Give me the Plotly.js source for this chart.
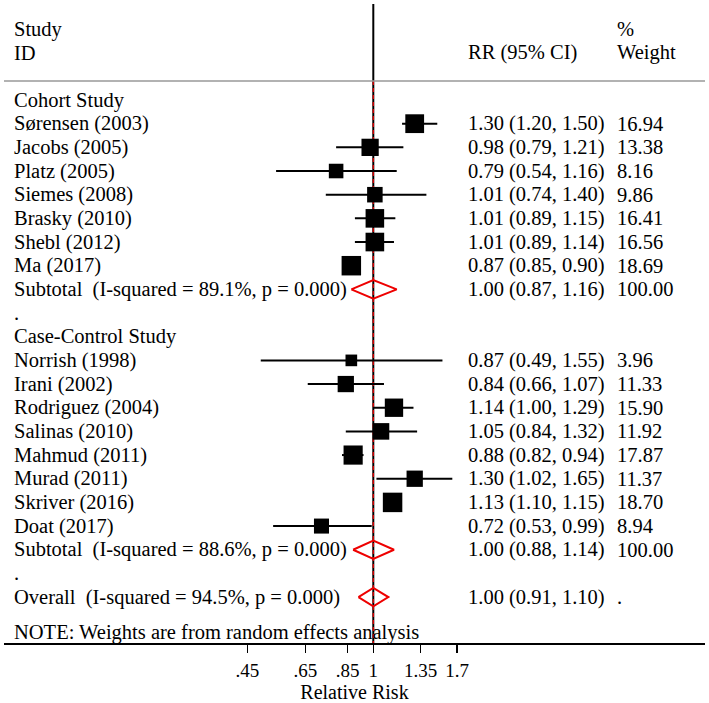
<!DOCTYPE html>
<html>
<head>
<meta charset="utf-8">
<script src="https://cdn.plot.ly/plotly-3.0.1.min.js"></script>
<style>html,body{margin:0;padding:0;background:#fff;}#chart{width:709px;height:703px;}</style>
</head>
<body>
<div id="chart"></div>
<script>
// ---- Data ----
const groupNames = ['Cohort Study', 'Case-Control Study'];

const cohortStudies = ['Sørensen (2003)', 'Jacobs (2005)', 'Platz (2005)', 'Siemes (2008)', 'Brasky (2010)', 'Shebl (2012)', 'Ma (2017)'];
const cohortRR = [1.30, 0.98, 0.79, 1.01, 1.01, 1.01, 0.87];
const cohortLo = [1.20, 0.79, 0.54, 0.74, 0.89, 0.89, 0.85];
const cohortHi = [1.50, 1.21, 1.16, 1.40, 1.15, 1.14, 0.90];
const cohortW  = [16.94, 13.38, 8.16, 9.86, 16.41, 16.56, 18.69];

const caseStudies = ['Norrish (1998)', 'Irani (2002)', 'Rodriguez (2004)', 'Salinas (2010)', 'Mahmud (2011)', 'Murad (2011)', 'Skriver (2016)', 'Doat (2017)'];
const caseRR = [0.87, 0.84, 1.14, 1.05, 0.88, 1.30, 1.13, 0.72];
const caseLo = [0.49, 0.66, 1.00, 0.84, 0.82, 1.02, 1.10, 0.53];
const caseHi = [1.55, 1.07, 1.29, 1.32, 0.94, 1.65, 1.15, 0.99];
const caseW  = [3.96, 11.33, 15.90, 11.92, 17.87, 11.37, 18.70, 8.94];

const subRR = [1.00, 1.00];
const subLo = [0.87, 0.88];
const subHi = [1.16, 1.14];
const subI2 = ['89.1%', '88.6%'];
const subP  = ['0.000', '0.000'];

const overallRR = 1.00, overallLo = 0.91, overallHi = 1.10;
const overallI2 = '94.5%', overallP = '0.000';

const nullValue = 1;
const tickVals = [0.45, 0.65, 0.85, 1, 1.35, 1.7];
const tickText = ['.45', '.65', '.85', '1', '1.35', '1.7'];
const noteText = 'NOTE: Weights are from random effects analysis';
const xTitle = 'Relative Risk';

// ---- Build rows ----
const groups = [
  {name: groupNames[0], studies: cohortStudies, rr: cohortRR, lo: cohortLo, hi: cohortHi, w: cohortW},
  {name: groupNames[1], studies: caseStudies, rr: caseRR, lo: caseLo, hi: caseHi, w: caseW}
];
const f2 = v => v.toFixed(2);
const ciText = (r, l, h) => `${f2(r)} (${f2(l)}, ${f2(h)})`;

const rows = [];
groups.forEach((g, gi) => {
  rows.push({type: 'header', label: g.name});
  g.studies.forEach((s, i) => rows.push({type: 'study', label: s, rr: g.rr[i], lo: g.lo[i], hi: g.hi[i], w: g.w[i]}));
  rows.push({type: 'diamond', label: `Subtotal\u00a0 (I-squared = ${subI2[gi]}, p = ${subP[gi]})`, rr: subRR[gi], lo: subLo[gi], hi: subHi[gi], wtxt: '100.00'});
  rows.push({type: 'dot', label: '.'});
});
rows.push({type: 'diamond', label: `Overall\u00a0 (I-squared = ${overallI2}, p = ${overallP})`, rr: overallRR, lo: overallLo, hi: overallHi, wtxt: '.'});

// ---- Traces ----
const FONT = 'Liberation Serif, Times New Roman, serif';
const FS = 20.5;
const ciX = [], ciY = [], sqX = [], sqY = [], sqS = [], dX = [], dY = [];
const dh = 0.39;
const annotations = [];
const xText = px => (px - 4) / 701;
const colLabel = xText(12), colRR = xText(466), colW = xText(615);
const ann = (x, y, text) => annotations.push({xref: 'paper', yref: 'y', x: x, y: y, text: text, showarrow: false, xanchor: 'left', yanchor: 'middle', font: {family: FONT, size: FS, color: '#000'}});

rows.forEach((r, i) => {
  ann(colLabel, i, r.label);
  if (r.type === 'study') {
    ciX.push(r.lo, r.hi, null); ciY.push(i, i, null);
    sqX.push(r.rr); sqY.push(i); sqS.push(5 + 3.35 * Math.sqrt(r.w));
    ann(colRR, i, ciText(r.rr, r.lo, r.hi));
    ann(colW, i, f2(r.w));
  } else if (r.type === 'diamond') {
    dX.push(r.lo, r.rr, r.hi, r.rr, r.lo, null);
    dY.push(i, i - dh, i, i + dh, i, null);
    ann(colRR, i, ciText(r.rr, r.lo, r.hi));
    ann(colW, i, r.wtxt);
  }
});
const nRows = rows.length;
ann(colLabel, nRows + 0.5, noteText);
ann(colLabel, -3, 'Study');
ann(colLabel, -2, 'ID');
ann(colRR, -2, 'RR (95% CI)');
ann(colW, -3, '%');
ann(colW, -2, 'Weight');

const yTop = -4.225, yBot = 22.94;
const traces = [
  {x: [nullValue, nullValue], y: [-4.06, yBot], mode: 'lines', line: {color: '#000', width: 2}, hoverinfo: 'skip'},
  {x: [overallRR, overallRR], y: [-0.8, yBot], mode: 'lines', line: {color: '#e00000', width: 1.3, dash: '4px,3px'}, hoverinfo: 'skip'},
  {x: ciX, y: ciY, mode: 'lines', line: {color: '#000', width: 2}, hoverinfo: 'skip'},
  {x: sqX, y: sqY, mode: 'markers', marker: {symbol: 'square', size: sqS, color: '#000', opacity: 1, line: {width: 0}}, hoverinfo: 'skip'},
  {x: dX, y: dY, mode: 'lines', line: {color: '#ee0000', width: 2}, hoverinfo: 'skip'}
];

const layout = {
  width: 709, height: 703,
  margin: {l: 4, r: 4, t: 0, b: 60},
  paper_bgcolor: '#fff', plot_bgcolor: '#fff',
  showlegend: false,
  xaxis: {
    type: 'log', range: [-1.0165, 0.913],
    tickvals: tickVals, ticktext: tickText,
    ticks: 'outside', ticklen: 8, tickwidth: 1.5, tickcolor: '#000',
    showline: true, linecolor: '#000', linewidth: 1.5,
    showgrid: false, zeroline: false,
    tickfont: {family: FONT, size: 19, color: '#000'},
    ticklabelstandoff: 2,
    title: {text: xTitle, font: {family: FONT, size: 20, color: '#000'}, standoff: 5},
    automargin: false, fixedrange: true
  },
  yaxis: {range: [yBot, yTop], visible: false, showgrid: false, zeroline: false, fixedrange: true},
  shapes: [
    {type: 'line', xref: 'paper', yref: 'y', x0: 0, x1: 1, y0: -0.8, y1: -0.8, line: {color: '#999', width: 1.5}}
  ],
  annotations: annotations
};

Plotly.newPlot('chart', traces, layout, {staticPlot: true, displayModeBar: false});
</script>
</body>
</html>
